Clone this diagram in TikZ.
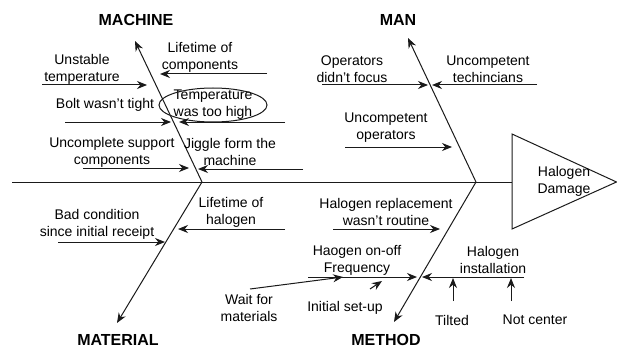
\documentclass[tikz,border=0pt]{standalone}
\usepackage{fontspec}
\setmainfont{Liberation Sans}
\usetikzlibrary{arrows.meta,shapes.geometric}
\definecolor{ink}{HTML}{1A1A1A}
\tikzset{
  lbl/.style={font=\fontsize{14}{17}\selectfont, align=center, inner sep=0pt, text=black},
  cat/.style={font=\fontsize{16}{19}\selectfont\bfseries, inner sep=0pt, text=black},
  cause/.style={draw=ink, line width=1pt, -{Stealth[length=10pt,width=8pt]}},
  bone/.style={draw=ink, line width=1pt, -{Stealth[length=10pt,width=8pt]}},
  plain/.style={draw=ink, line width=1pt}
}
\begin{document}
\begin{tikzpicture}[x=1pt,y=-1pt]
\useasboundingbox (0,0) rectangle (617,350);
% spine and head
\coordinate (spL) at (12,182);
\coordinate (spR) at (512,182);
\coordinate (hTop) at (512,134);
\coordinate (hTip) at (616.5,182);
\coordinate (hBot) at (512,229);
\draw[plain] (spL) -- (spR);
\draw[plain, line join=miter] (hTop) -- (hTip) -- (hBot) -- cycle;
\node[lbl] (head) at (564,181) {Halogen\\Damage};
% bones
\coordinate (jL) at (202,182);
\coordinate (jR) at (476,182);
\coordinate (tMach) at (135,41);
\coordinate (tMat) at (117,323);
\coordinate (tMan) at (408,38);
\coordinate (tMeth) at (394,322);
\draw[bone] (jL) -- (tMach);
\draw[bone] (jL) -- (tMat);
\draw[bone] (jR) -- (tMan);
\draw[bone] (jR) -- (tMeth);
% category labels
\node[cat] (machine) at (136,20) {MACHINE};
\node[cat] (man) at (398,20) {MAN};
\node[cat] (material) at (118,340) {MATERIAL};
\node[cat] (method) at (386,340) {METHOD};
% machine causes
\node[lbl] (c1) at (82,69) {Unstable\\temperature};
\coordinate (c1a) at (42,85); \coordinate (c1b) at (147,85);
\draw[cause] (c1a) -- (c1b);
\node[lbl] (c2) at (200,57) {Lifetime of\\components};
\coordinate (c2a) at (267,74); \coordinate (c2b) at (160,74);
\draw[cause] (c2a) -- (c2b);
\node[lbl] (c3) at (105,105) {Bolt wasn't tight};
\coordinate (c3a) at (65,122); \coordinate (c3b) at (171,122);
\draw[cause] (c3a) -- (c3b);
\node[lbl] (c4) at (213,105) {Temperature\\was too high};
\node[draw=ink, line width=1pt, ellipse, minimum width=108pt, minimum height=34pt, inner sep=0pt] (c4e) at (213,105) {};
\coordinate (c4a) at (285,122); \coordinate (c4b) at (179,122);
\draw[cause] (c4a) -- (c4b);
\node[lbl] (c5) at (112,152) {Uncomplete support\\components};
\coordinate (c5a) at (83,168); \coordinate (c5b) at (189,168);
\draw[cause] (c5a) -- (c5b);
\node[lbl] (c6) at (230,152) {Jiggle form the\\machine};
\coordinate (c6a) at (303,169); \coordinate (c6b) at (198,169);
\draw[cause] (c6a) -- (c6b);
% man causes
\node[lbl] (c7) at (352,69) {Operators\\didn't focus};
\coordinate (c7a) at (322,85); \coordinate (c7b) at (428,85);
\draw[cause] (c7a) -- (c7b);
\node[lbl] (c8) at (488,69) {Uncompetent\\techincians};
\coordinate (c8a) at (537,85); \coordinate (c8b) at (432,85);
\draw[cause] (c8a) -- (c8b);
\node[lbl] (c9) at (386,128) {Uncompetent\\operators};
\coordinate (c9a) at (345,147); \coordinate (c9b) at (452,147);
\draw[cause] (c9a) -- (c9b);
% material causes
\node[lbl] (c10) at (97,224) {Bad condition\\since initial receipt};
\coordinate (c10a) at (58,242); \coordinate (c10b) at (165,242);
\draw[cause] (c10a) -- (c10b);
\node[lbl] (c11) at (231,212) {Lifetime of\\halogen};
\coordinate (c11a) at (285,229); \coordinate (c11b) at (178,229);
\draw[cause] (c11a) -- (c11b);
% method causes
\node[lbl] (c12) at (386,212) {Halogen replacement\\wasn't routine};
\coordinate (c12a) at (333,229); \coordinate (c12b) at (440,229);
\draw[cause] (c12a) -- (c12b);
\node[lbl] (c13) at (357,260) {Haogen on-off\\Frequency};
\coordinate (c13a) at (308,277); \coordinate (c13b) at (417,277);
\draw[cause] (c13a) -- (c13b);
\node[lbl] (c14) at (493,260) {Halogen\\installation};
\coordinate (c14a) at (524,277); \coordinate (c14b) at (422,277);
\draw[cause] (c14a) -- (c14b);
\node[lbl] (c15) at (249,308) {Wait for\\materials};
\coordinate (c15a) at (250,289); \coordinate (c15b) at (343,277);
\draw[cause] (c15a) -- (c15b);
\node[lbl] (c16) at (345,308) {Initial set-up};
\coordinate (c16a) at (370,289); \coordinate (c16b) at (382,281);
\draw[cause] (c16a) -- (c16b);
\node[lbl] (c17) at (452,320) {Tilted};
\coordinate (c17a) at (453,301); \coordinate (c17b) at (453,278);
\draw[cause] (c17a) -- (c17b);
\node[lbl] (c18) at (535,320) {Not center};
\coordinate (c18a) at (511,301); \coordinate (c18b) at (511,278);
\draw[cause] (c18a) -- (c18b);
\end{tikzpicture}
\end{document}
